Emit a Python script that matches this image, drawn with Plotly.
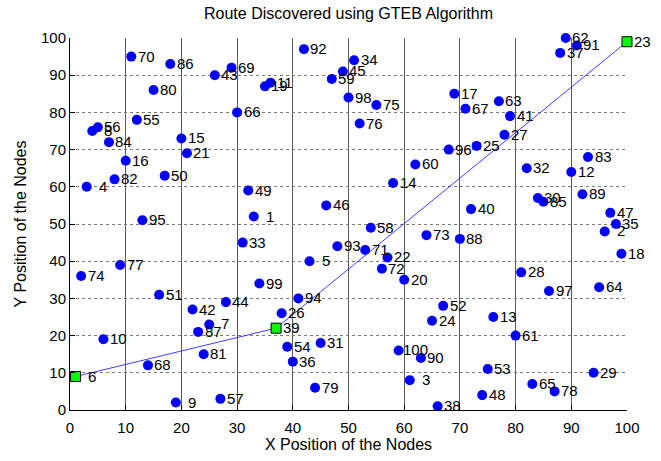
import plotly.graph_objects as go

# Node coordinates (node i is at index i-1)
node_ids = list(range(1, 101))
node_x = [33, 96, 61, 3, 43, 1, 25, 4, 19, 6,
          36, 90, 76, 58, 20, 10, 69, 99, 35, 60,
          21, 57, 100, 65, 73, 38, 78, 81, 94, 84,
          45, 82, 31, 51, 98, 40, 88, 66, 37, 72,
          79, 22, 26, 28, 49, 46, 97, 74, 32, 17,
          16, 67, 75, 39, 12, 5, 27, 54, 47, 62,
          80, 89, 77, 95, 83, 30, 71, 14, 29, 11,
          53, 56, 64, 2, 55, 52, 9, 87, 44, 15,
          24, 8, 93, 7, 85, 18, 23, 70, 92, 63,
          91, 42, 48, 41, 13, 68, 86, 50, 34, 59]
node_y = [52, 48, 8, 60, 40, 9, 23, 75, 2, 19,
          88, 64, 25, 61, 73, 67, 85, 42, 87, 35,
          69, 41, 99, 24, 71, 26, 74, 37, 10, 57,
          18, 65, 45, 94, 50, 13, 96, 1, 22, 54,
          79, 27, 90, 29, 91, 55, 53, 4, 59, 63,
          31, 28, 11, 17, 78, 76, 3, 49, 89, 66,
          20, 100, 83, 33, 7, 80, 81, 12, 92, 95,
          43, 38, 47, 36, 82, 77, 39, 5, 6, 86,
          15, 62, 68, 72, 56, 93, 21, 46, 58, 14,
          98, 97, 44, 30, 51, 70, 32, 84, 34, 16]

# Discovered route (source -> relay -> destination)
route = [6, 39, 23]

tick_vals = list(range(0, 101, 10))

FONT = "Arial, Liberation Sans, sans-serif"

route_x = [node_x[n - 1] for n in route]
route_y = [node_y[n - 1] for n in route]

fig = go.Figure()

# all nodes
fig.add_trace(go.Scatter(
    x=node_x, y=node_y, mode="markers",
    marker=dict(symbol="circle", size=10, color="rgb(0,0,255)", line=dict(width=0)),
    cliponaxis=False, hoverinfo="skip", showlegend=False,
))

# route path
fig.add_trace(go.Scatter(
    x=route_x, y=route_y, mode="lines",
    line=dict(color="rgb(40,40,255)", width=0.9),
    cliponaxis=False, hoverinfo="skip", showlegend=False,
))

# route nodes
fig.add_trace(go.Scatter(
    x=route_x, y=route_y, mode="markers",
    marker=dict(symbol="square", size=10, color="rgb(0,255,0)",
                line=dict(width=1, color="black")),
    cliponaxis=False, hoverinfo="skip", showlegend=False,
))

# node number labels to the right of each node
label_gap = {1: 10, 2: 4.5, 3: 2.5}
annotations = []
for nid, xv, yv in zip(node_ids, node_x, node_y):
    s = str(nid)
    annotations.append(dict(
        x=xv, y=yv, xref="x", yref="y", text=s, showarrow=False,
        xanchor="left", yanchor="middle", xshift=label_gap[len(s)], yshift=0.5,
        font=dict(family=FONT, size=15, color="black"),
    ))

fig.update_layout(
    width=661, height=461,
    margin=dict(l=70, r=34, t=38, b=42),
    paper_bgcolor="white", plot_bgcolor="white",
    title=dict(text="Route Discovered using GTEB Algorithm",
               font=dict(family=FONT, size=16, color="black"),
               x=0.5, xref="paper", xanchor="center", y=0.97, yanchor="middle"),
    annotations=annotations,
    font=dict(family=FONT, color="black"),
)

fig.update_xaxes(
    range=[0, 100], tickmode="array", tickvals=tick_vals,
    ticks="inside", ticklen=5, tickcolor="black",
    showline=True, linecolor="black", linewidth=1,
    showgrid=True, gridcolor="#5a5a5a", gridwidth=1,
    zeroline=False, tickfont=dict(family=FONT, size=15, color="black"),
    ticklabelstandoff=4,
    title=dict(text="X Position of the Nodes", standoff=2,
               font=dict(family=FONT, size=16, color="black")),
)
fig.update_yaxes(
    range=[0, 100], tickmode="array", tickvals=tick_vals,
    ticks="inside", ticklen=5, tickcolor="black",
    showline=True, linecolor="black", linewidth=1,
    showgrid=True, gridcolor="#7a7a7a", gridwidth=1, griddash="dot",
    zeroline=False, tickfont=dict(family=FONT, size=15, color="black"),
    title=dict(text="Y Position of the Nodes", standoff=10,
               font=dict(family=FONT, size=16, color="black")),
)

fig.write_html("out.html")
